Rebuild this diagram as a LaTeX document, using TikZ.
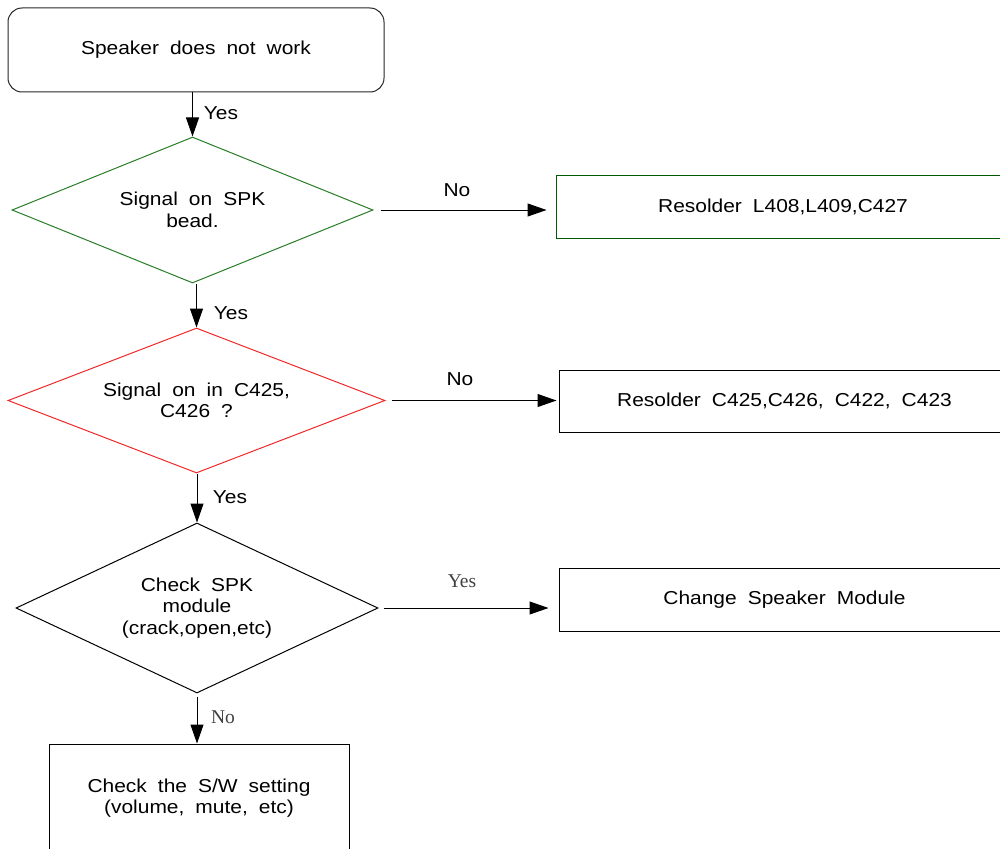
\documentclass[tikz,border=0pt]{standalone}
\usepackage{fontspec}
\setmainfont{Liberation Sans}[FakeStretch=1.12,WordSpace=1.9]
\newfontfamily\labserif{Liberation Serif}
\usetikzlibrary{shapes.geometric,arrows.meta}
\definecolor{dgreen}{RGB}{40,125,40}
\definecolor{boxgreen}{RGB}{0,90,0}
\definecolor{dred}{RGB}{240,40,40}
\begin{document}
\begin{tikzpicture}[x=1pt,y=-1pt,
  base/.style={font=\fontsize{18.7}{21.5}\selectfont, text=black, align=center, line width=1pt},
  boxnode/.style={base, draw, rectangle, inner sep=0pt},
  dec/.style={base, draw, diamond, inner sep=0pt, shape aspect=2.4},
  arr/.style={line width=1pt, -{Triangle[length=19pt,width=13pt]}},
  lbl/.style={font=\fontsize{18.7}{21.5}\selectfont, text=black},
  lbs/.style={font=\labserif\fontsize{19.5}{22}\selectfont, text=black!75}]
\useasboundingbox (0,0) rectangle (1000,848);
\node[boxnode, rounded corners=14pt, draw=black!85, minimum width=376pt, minimum height=84pt] (start) at (196,50) {Speaker does not work};
\node[dec, draw=dgreen, minimum width=361pt, minimum height=146pt] (d1) at (192.5,210) {Signal on SPK\\bead.};
\node[boxnode, draw=boxgreen, minimum width=454pt, minimum height=63pt] (r1) at (783,206.5) {Resolder L408,L409,C427};
\node[dec, draw=dred, minimum width=377pt, minimum height=145pt] (d2) at (196.5,400.5) {Signal on in C425,\\C426 ?};
\node[boxnode, minimum width=451pt, minimum height=62pt] (r2) at (784.5,401) {Resolder C425,C426, C422, C423};
\node[dec, minimum width=362pt, minimum height=170pt, shape aspect=2.1] (d3) at (197,608) {Check SPK\\module\\(crack,open,etc)};
\node[boxnode, minimum width=451pt, minimum height=63pt] (r3) at (784.5,599.5) {Change Speaker Module};
\node[boxnode, minimum width=300pt, minimum height=108pt] (sw) at (199,798) {Check the S/W setting\\(volume, mute, etc)};
\draw[arr] (start.south -| d1.north) -- (d1.north);
\draw[arr, shorten <=7pt, shorten >=9pt] (d1.east) -- (r1.west |- d1.east);
\draw[arr] (d1.south -| d2.north) -- (d2.north);
\draw[arr, shorten <=6pt, shorten >=2pt] (d2.east) -- (r2.west |- d2.east);
\draw[arr] (d2.south -| d3.north) -- (d3.north);
\draw[arr, shorten <=5pt, shorten >=10pt] (d3.east) -- (r3.west |- d3.east);
\draw[arr, shorten <=3pt] (d3.south) -- (sw.north -| d3.south);
\node[lbl] (y1) at (221,113) {Yes};
\node[lbl] (n1) at (457,190) {No};
\node[lbl] (y2) at (231,313) {Yes};
\node[lbl] (n2) at (460,379) {No};
\node[lbl] (y3) at (230,497) {Yes};
\node[lbs] (y4) at (462,581) {Yes};
\node[lbs] (n4) at (223,717) {No};
\end{tikzpicture}
\end{document}
